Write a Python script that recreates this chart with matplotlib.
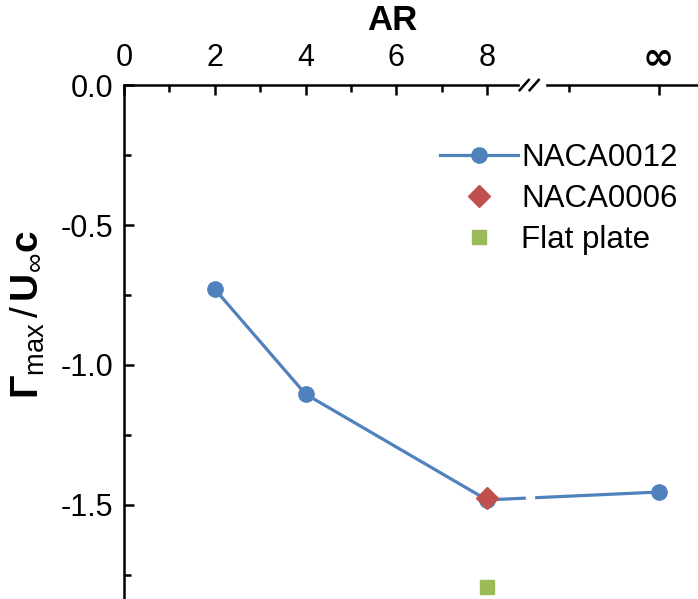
import matplotlib
matplotlib.use('Agg')
import matplotlib.pyplot as plt
from matplotlib.lines import Line2D
from matplotlib.patches import Rectangle

plt.rcParams['font.family'] = ['Liberation Sans', 'DejaVu Sans']
plt.rcParams['mathtext.fontset'] = 'custom'
plt.rcParams['mathtext.rm'] = 'Liberation Sans'
plt.rcParams['mathtext.it'] = 'Liberation Sans'
plt.rcParams['mathtext.bf'] = 'Liberation Sans:bold'

# ∞ is placed at x = 11.78 on the broken axis
AR_INF = 11.78
ar_0012 = [2, 4, 8, AR_INF]
gamma_0012 = [-0.729, -1.104, -1.482, -1.454]
ar_0006 = [8]
gamma_0006 = [-1.475]
ar_flat = [8]
gamma_flat = [-1.793]

x_ticks = [0, 2, 4, 6, 8, AR_INF]
x_ticklabels = ['0', '2', '4', '6', '8', '']
x_minor = [1, 3, 5, 7, 9.8]
y_ticks = [0.0, -0.5, -1.0, -1.5]
y_ticklabels = ['0.0', '-0.5', '-1.0', '-1.5']

blue = '#4F81BD'
red = '#C0504D'
green = '#9BBB59'

fig = plt.figure(figsize=(6.98, 5.99), dpi=100)
ax = fig.add_axes([0.1777, 0.0, 0.8223, 0.858])

ax.plot(ar_0012, gamma_0012, '-o', color=blue, lw=2.3, ms=11, label='NACA0012', zorder=3)
ax.plot(ar_0006, gamma_0006, 'D', color=red, ms=11, label='NACA0006', zorder=4)
ax.plot(ar_flat, gamma_flat, 's', color=green, ms=10, label='Flat plate', zorder=4)

ax.set_xlim(0, 12.65)
ax.set_ylim(-1.836, 0)

ax.xaxis.tick_top()
ax.set_xticks(x_ticks)
ax.set_xticklabels(x_ticklabels)
ax.set_xticks(x_minor, minor=True)
ax.set_yticks(y_ticks)
ax.set_yticklabels(y_ticklabels)
ax.set_yticks([-0.25, -0.75, -1.25, -1.75], minor=True)

ax.tick_params(which='both', direction='in', width=1.8, labelsize=22)
ax.tick_params(which='major', length=7)
ax.tick_params(which='minor', length=5)
ax.tick_params(axis='x', which='both', top=True, bottom=False, pad=9)
ax.tick_params(axis='y', which='both', left=True, right=False, pad=8)

trans = ax.get_xaxis_transform()
ax.annotate('∞', xy=(AR_INF, 1), xycoords=trans, xytext=(0, 19),
            textcoords='offset points', ha='center', va='center',
            family='DejaVu Sans', fontweight='bold', fontsize=27)

for s in ['right', 'bottom']:
    ax.spines[s].set_visible(False)
for s in ['left', 'top']:
    ax.spines[s].set_linewidth(1.8)

fig.text(392 / 698, 1 - 21 / 599, 'AR', fontsize=25, fontweight='bold', ha='center', va='center')
fig.text(28 / 698, 1 - 314 / 599,
         r'$\mathbf{\Gamma}_{\mathrm{max}}\,/\,\mathbf{U}_{\infty}\mathbf{c}$',
         fontsize=28, rotation=90, ha='center', va='center')

# axis break on top spine and gap in data line
bx0, bx1 = 8.85, 9.03
ax.add_patch(Rectangle((bx0, -1.47 - 0.02), bx1 - bx0, 0.04, color='white', zorder=3.5))
ax.add_patch(Rectangle((8.72, 0.985), 0.55, 0.03, transform=trans, color='white',
                       clip_on=False, zorder=5))
for x0 in [8.72, 8.94]:
    ax.add_line(Line2D([x0, x0 + 0.2], [0.99, 1.01], transform=trans, color='black',
                       lw=1.8, clip_on=False, zorder=6))

ax.legend(loc='center left', bbox_to_anchor=(440 / 698, 1 - 199 / 599),
          bbox_transform=fig.transFigure, frameon=False, fontsize=22.5,
          handlelength=2.5, handletextpad=0.1, labelspacing=0.35,
          borderaxespad=0, borderpad=0)

fig.savefig('out.png', dpi=100)
